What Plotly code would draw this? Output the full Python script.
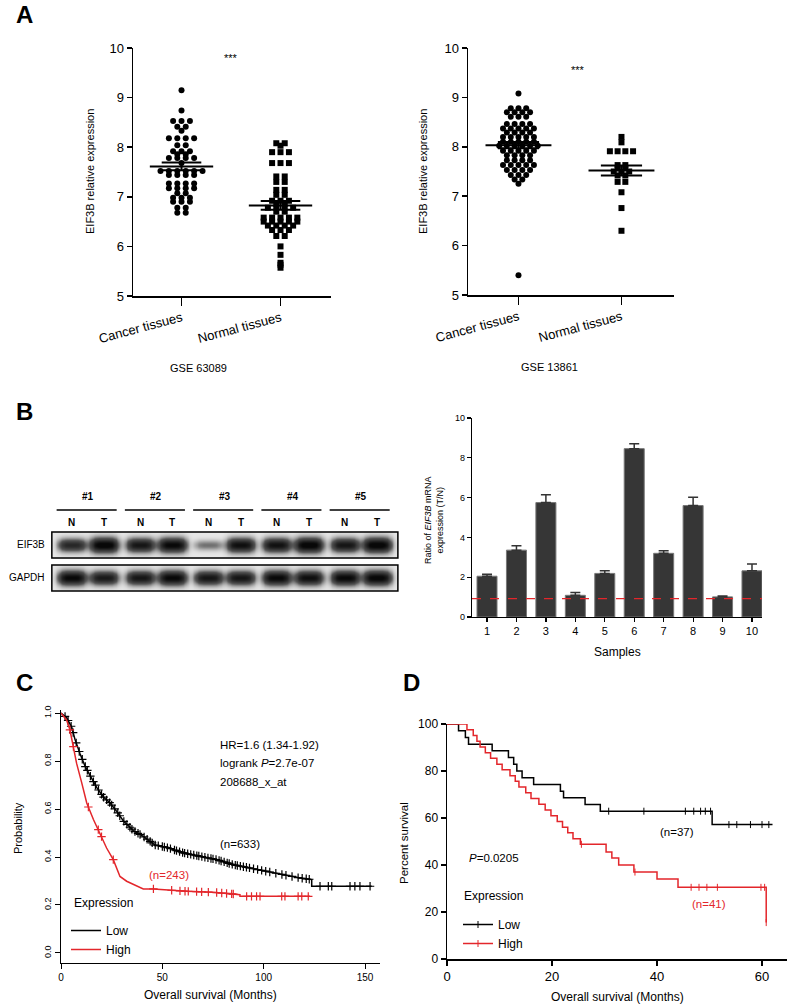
import numpy as np
import plotly.graph_objects as go

W, H = 791, 1008
FONT = "Liberation Sans, Arial, sans-serif"
RED = "#e3262b"

def px(p):
    return p / W

def py(p):
    return 1 - p / H

# ---------------- Panel A data ----------------
a_categories = ["Cancer tissues", "Normal tissues"]
a_datasets = ["GSE 63089", "GSE 13861"]

a1_cancer = [9.15, 8.74, 8.53, 8.53, 8.53, 8.41, 8.41, 8.33,
             8.18, 8.18, 8.18, 8.18, 8.04, 8.04, 7.92, 7.92, 7.92,
             7.86, 7.86, 7.78, 7.78, 7.78, 7.78, 7.68,
             7.52, 7.52, 7.52, 7.52, 7.52, 7.52, 7.44, 7.44, 7.44, 7.44,
             7.27, 7.27, 7.27, 7.27, 7.17, 7.17, 7.17, 7.17, 7.07, 7.07,
             6.98, 6.98, 6.98, 6.90, 6.90, 6.90, 6.78, 6.78, 6.68, 6.68]
a1_normal = [8.08, 8.08, 8.03, 7.90, 7.90, 7.90, 7.68, 7.68, 7.68,
             7.41, 7.41, 7.30, 7.30, 7.14, 7.14, 7.04, 7.04,
             6.92, 6.92, 6.92, 6.86, 6.86, 6.78, 6.78, 6.78, 6.78, 6.70, 6.70,
             6.58, 6.58, 6.58, 6.58, 6.58, 6.50, 6.50, 6.50, 6.50, 6.50,
             6.42, 6.42, 6.42, 6.42, 6.33, 6.33, 6.33, 6.21, 6.21,
             6.00, 5.83, 5.67, 5.63, 5.57]
a2_cancer = [9.08, 8.78, 8.78, 8.78, 8.70, 8.70, 8.70, 8.70, 8.61, 8.61, 8.61,
             8.46, 8.46, 8.46, 8.46, 8.37, 8.37, 8.37, 8.37, 8.37,
             8.29, 8.29, 8.29, 8.29, 8.20, 8.20, 8.20, 8.20, 8.20,
             8.10, 8.10, 8.10, 8.10, 8.10, 8.02, 8.02, 8.02, 8.02, 8.02, 8.02,
             7.92, 7.92, 7.92, 7.92, 7.92, 7.83, 7.83, 7.83, 7.83,
             7.73, 7.73, 7.73, 7.73, 7.63, 7.63, 7.63, 7.63, 7.63,
             7.53, 7.53, 7.53, 7.53, 7.43, 7.43, 7.43, 7.34, 7.34, 7.25, 5.40]
a2_normal = [8.20, 8.09, 7.91, 7.91, 7.91, 7.91, 7.63, 7.63, 7.57, 7.57,
             7.50, 7.50, 7.50, 7.42, 7.42, 7.29, 7.29, 7.08, 6.76, 6.30]

# ---------------- Panel B data ----------------
blot_groups = ["#1", "#2", "#3", "#4", "#5"]
blot_lanes = ["N", "T"]
blot_rows = ["EIF3B", "GAPDH"]
eif3b_bands = [0.72, 1.0, 0.85, 0.95, 0.32, 0.9, 0.88, 1.0, 0.85, 1.0]
gapdh_bands = [0.95, 0.82, 0.85, 0.95, 0.85, 0.85, 0.95, 0.9, 0.95, 0.97]

samples = [1, 2, 3, 4, 5, 6, 7, 8, 9, 10]
ratio = [2.05, 3.36, 5.75, 1.09, 2.19, 8.46, 3.20, 5.60, 1.01, 2.32]
ratio_err = [0.10, 0.22, 0.39, 0.14, 0.13, 0.25, 0.13, 0.42, 0.04, 0.34]
ratio_ref = 0.92

# ---------------- Panel C data ----------------
c_low_t = [0, 2.8, 5.3, 6.9, 9.4, 11.8, 14.3, 17.6, 20.9, 24.2, 27.5, 30.8, 35.7,
           40.6, 46.4, 52.1, 60.4, 68.6, 76.8, 85.0, 93.3, 101.5, 109.7, 118.0,
           123.7, 123.7, 153.3]
c_low_s = [1.0, 0.98, 0.94, 0.89, 0.83, 0.78, 0.74, 0.69, 0.65, 0.625, 0.59, 0.55,
           0.51, 0.486, 0.45, 0.44, 0.417, 0.403, 0.389, 0.368, 0.354, 0.34, 0.326,
           0.3125, 0.306, 0.278, 0.278]
c_high_t = [0, 2.8, 4.4, 6.1, 7.7, 10.2, 12.7, 16.0, 19.2, 22.5, 25.8, 29.1, 32.4,
            35.7, 40.6, 45.6, 62.0, 75.2, 88.3, 88.3, 122.9]
c_high_s = [1.0, 0.97, 0.93, 0.86, 0.79, 0.71, 0.625, 0.556, 0.5, 0.4375, 0.389,
            0.319, 0.299, 0.285, 0.267, 0.267, 0.257, 0.253, 0.243, 0.236, 0.236]
c_low_cens = [2, 3.5, 5, 6, 7.5, 9, 10.5, 12, 13, 14.5, 16, 17, 18.5, 20, 21, 22.5,
              24, 25, 26.5, 28, 29, 31, 32.5, 34, 35, 36.5, 38, 39, 41, 42.5, 44,
              45, 46.5, 48, 50, 51, 52.5, 54, 56, 57, 58.5, 60, 61, 62.5, 64, 65.5,
              67, 68, 69.5, 71, 72.5, 74, 75, 76.5, 78, 79, 80.5, 82, 83, 84.5, 86,
              87, 88.5, 90, 91.5, 93, 95, 97, 99, 101, 103, 106, 109, 111, 114, 117,
              119, 121, 122.5, 127.8, 131.9, 133.6, 142.6, 145, 147.5, 152.5]
c_high_cens = [4.4, 6.1, 13.5, 18.4, 20, 25.8, 45.6, 54.6, 58.7, 61.2, 62.8, 66.9,
               69.4, 72.7, 76.8, 79.3, 81.7, 84.2, 85.0, 91.6, 94, 96.5, 98.2,
               108.9, 110.5, 117, 118.8, 122]

# ---------------- Panel D data ----------------
d_low_t = [0, 2.2, 3.5, 4.1, 8.6, 11.7, 12.7, 13.3, 14.3, 16.5, 21.6, 22.2, 26.3,
           29.2, 50.5, 62.0]
d_low_s = [100, 97.1, 94.3, 91.4, 88.6, 85.7, 82.9, 80.0, 77.1, 74.3, 71.4, 68.6,
           65.7, 62.9, 57.2, 57.2]
d_high_t = [0, 3.8, 5.0, 5.7, 6.3, 7.3, 8.3, 9.5, 10.5, 12.0, 13.0, 13.7, 15.0,
            16.0, 17.5, 18.7, 19.8, 21.0, 22.0, 23.0, 24.0, 25.4, 30.3, 31.4, 32.7,
            35.6, 40.0, 44.0, 60.8]
d_high_s = [100, 97.6, 95.1, 92.7, 90.2, 87.8, 85.4, 82.9, 80.5, 78.0, 75.6, 73.2,
            70.7, 68.3, 65.9, 63.4, 61.0, 58.5, 56.1, 53.7, 51.2, 48.8, 45.5, 43.0,
            40.0, 37.0, 34.0, 30.5, 15.5]
d_low_cens = [30.8, 37.5, 45.4, 47.0, 48.3, 49.2, 50.2, 53.7, 55.2, 57.8, 60.0, 61.3]
d_high_cens = [25.6, 35.8, 46.5, 48.0, 49.5, 51.5, 59.8, 60.5, 60.8]

# ---------------- helpers ----------------
def beeswarm(vals, center, spacing):
    vals = np.asarray(vals, float)
    xs = np.zeros_like(vals)
    for v in np.unique(vals):
        idx = np.where(vals == v)[0]
        n = len(idx)
        xs[idx] = center + (np.arange(n) - (n - 1) / 2) * spacing
    return xs

def step_at(t, times, surv):
    i = np.searchsorted(np.asarray(times), t, side="right") - 1
    return np.asarray(surv)[i]

fig = go.Figure()

# ---------------- Panel A traces ----------------
a_sets = [(a1_cancer, a1_normal, "x", "y", 0.085), (a2_cancer, a2_normal, "x2", "y2", 0.075)]
for cancer, normal, xa, ya, sp in a_sets:
    for gi, (vals, sym, sz) in enumerate([(cancer, "circle", 6), (normal, "square", 6)]):
        fig.add_trace(go.Scatter(x=beeswarm(vals, gi, sp), y=vals, mode="markers",
                                 marker=dict(symbol=sym, size=sz, color="black"),
                                 xaxis=xa, yaxis=ya, showlegend=False))
        m = float(np.mean(vals))
        s = float(np.std(vals, ddof=1) / np.sqrt(len(vals)))
        lx = [gi - 0.32, gi + 0.32, None, gi - 0.2, gi + 0.2, None, gi - 0.2, gi + 0.2, None, gi, gi]
        ly = [m, m, None, m + s, m + s, None, m - s, m - s, None, m - s, m + s]
        fig.add_trace(go.Scatter(x=lx, y=ly, mode="lines", line=dict(color="black", width=2),
                                 xaxis=xa, yaxis=ya, showlegend=False))

# ---------------- Panel B: western blot ----------------
lane_pos = []
for g in range(len(blot_groups)):
    lane_pos += [g - 0.235, g + 0.235]
gx = np.linspace(-0.53, 4.54, 420)
gy = np.linspace(-0.394, 1.394, 120)
GX, GY = np.meshgrid(gx, gy)
inside = (np.abs(GY - 0) <= 0.394) | (np.abs(GY - 1) <= 0.394)
Z = np.where(inside, 0.06, 0.0)
for yc, bands in [(1, eif3b_bands), (0, gapdh_bands)]:
    for c, inten in zip(lane_pos, bands):
        wy = 0.11 + 0.11 * inten
        Z = Z + inten * np.exp(-((GX - c) / 0.21) ** 4) * np.exp(-((GY - yc) / wy) ** 2)
Z = np.where(inside, np.clip(Z, 0, 1), np.nan)
fig.add_trace(go.Heatmap(x=gx, y=gy, z=Z, zmin=0, zmax=1, zsmooth="best",
                         colorscale=[[0, "white"], [0.45, "#555555"], [1, "#080808"]],
                         showscale=False, xaxis="x6", yaxis="y6", hoverinfo="skip"))

# ---------------- Panel B: bar chart ----------------
fig.add_trace(go.Bar(x=samples, y=ratio, width=0.68,
                     marker=dict(color="#363636", line=dict(color="#777777", width=1)),
                     error_y=dict(type="data", array=ratio_err, arrayminus=[0] * len(ratio),
                                  symmetric=False, color="#333333", thickness=1.5, width=5),
                     xaxis="x3", yaxis="y3", showlegend=False))
fig.add_trace(go.Scatter(x=[0.49, 10.34], y=[ratio_ref, ratio_ref], mode="lines",
                         line=dict(color=RED, width=1.2, dash="dash"),
                         xaxis="x3", yaxis="y3", showlegend=False))

# ---------------- Panel C ----------------
for t, s, cens, col, name in [(c_low_t, c_low_s, c_low_cens, "black", "Low"),
                              (c_high_t, c_high_s, c_high_cens, RED, "High")]:
    fig.add_trace(go.Scatter(x=t, y=s, mode="lines", line=dict(color=col, width=1.5),
                             xaxis="x4", yaxis="y4", name=name, legend="legend"))
    fig.add_trace(go.Scatter(x=cens, y=np.interp(cens, t, s), mode="markers",
                             marker=dict(symbol="cross-thin", size=6, line=dict(color=col, width=1.2)),
                             xaxis="x4", yaxis="y4", showlegend=False))

# ---------------- Panel D ----------------
for t, s, cens, col, name in [(d_low_t, d_low_s, d_low_cens, "black", "Low"),
                              (d_high_t, d_high_s, d_high_cens, RED, "High")]:
    fig.add_trace(go.Scatter(x=t, y=s, mode="lines", line=dict(color=col, width=1.5, shape="hv"),
                             xaxis="x5", yaxis="y5", showlegend=False))
    fig.add_trace(go.Scatter(x=cens, y=[step_at(c, t, s) for c in cens], mode="markers",
                             marker=dict(symbol="line-ns", size=5, line=dict(color=col, width=1)),
                             xaxis="x5", yaxis="y5", showlegend=False))
    fig.add_trace(go.Scatter(x=[None], y=[None], mode="lines+markers", name=name,
                             line=dict(color=col, width=1.5),
                             marker=dict(symbol="line-ns", size=5, line=dict(color=col, width=1)),
                             xaxis="x5", yaxis="y5", legend="legend2"))

# ---------------- axes ----------------
def ax(**kw):
    base = dict(showline=True, linecolor="black", linewidth=1.5, ticks="outside",
                tickcolor="black", tickwidth=1.5, showgrid=False, zeroline=False,
                automargin=False,
                tickfont=dict(family=FONT, size=12, color="black"), fixedrange=True)
    base.update(kw)
    return base

layout_axes = dict(
    xaxis=ax(domain=[px(133), px(331)], range=[-0.49, 1.51], tickvals=[0, 1],
             ticktext=a_categories, tickangle=-15, ticklen=8, anchor="y",
             tickfont=dict(family=FONT, size=13, color="black")),
    yaxis=ax(domain=[py(296), py(48)], range=[5, 10], dtick=1, ticklen=5, anchor="x",
             tickfont=dict(family=FONT, size=13, color="black")),
    xaxis2=ax(domain=[px(468), px(674)], range=[-0.49, 1.51], tickvals=[0, 1],
              ticktext=a_categories, tickangle=-15, ticklen=8, anchor="y2",
              tickfont=dict(family=FONT, size=13, color="black")),
    yaxis2=ax(domain=[py(295), py(48)], range=[5, 10], dtick=1, ticklen=5, anchor="x2",
              tickfont=dict(family=FONT, size=13, color="black")),
    xaxis3=ax(domain=[px(472), px(762)], range=[0.49, 10.34], tickvals=samples, ticklen=4,
              anchor="y3", linewidth=1.2, tickwidth=1.2,
              tickfont=dict(family=FONT, size=11, color="black")),
    yaxis3=ax(domain=[py(617), py(418)], range=[0, 10], dtick=2, ticklen=4, anchor="x3",
              linewidth=1.2, tickwidth=1.2, tickfont=dict(family=FONT, size=9, color="black")),
    xaxis4=ax(domain=[px(61), px(380)], range=[0, 157.4], tickvals=[0, 50, 100, 150],
              ticklen=5, anchor="y4", linewidth=1.2, tickwidth=1,
              tickfont=dict(family=FONT, size=10, color="black")),
    yaxis4=ax(domain=[py(963), py(710)], range=[-0.0417, 1.0125],
              tickvals=[0, 0.2, 0.4, 0.6, 0.8, 1.0],
              ticktext=["0.0", "0.2", "0.4", "0.6", "0.8", "1.0"], tickangle=-90,
              ticklen=5, anchor="x4", linewidth=1.2, tickwidth=1,
              tickfont=dict(family=FONT, size=9, color="black")),
    xaxis5=ax(domain=[px(447), px(787)], range=[0, 64.76], dtick=20, ticklen=5, anchor="y5",
              tickfont=dict(family=FONT, size=13, color="black")),
    yaxis5=ax(domain=[py(959), py(724)], range=[0, 100], dtick=20, ticklen=5, anchor="x5",
              tickfont=dict(family=FONT, size=12, color="black")),
    xaxis6=dict(domain=[px(50), px(400)], range=[-0.557, 4.571], visible=False, fixedrange=True,
                anchor="y6", automargin=False),
    yaxis6=dict(domain=[py(593), py(488)], range=[-0.455, 2.727], visible=False, fixedrange=True,
                anchor="x6", automargin=False),
)

# ---------------- annotations ----------------
ann = []
def text(x, y, t, size=12, xref="paper", yref="paper", xanchor="center", yanchor="middle",
         color="black", angle=0, bold=False):
    if bold:
        t = "<b>" + t + "</b>"
    ann.append(dict(x=x, y=y, xref=xref, yref=yref, text=t, showarrow=False,
                    xanchor=xanchor, yanchor=yanchor, textangle=angle,
                    font=dict(family=FONT, size=size, color=color)))

for lab, (lx, ly) in zip("ABCD", [(24, 15), (24, 411), (24, 682), (411, 682)]):
    text(px(lx), py(ly), lab, size=24, bold=True)

# Panel A
text(px(90), py(172), "EIF3B relative expression", size=11, angle=-90)
text(px(423), py(172), "EIF3B relative expression", size=11, angle=-90)
text(0.5, 9.8, "***", size=11, xref="x", yref="y")
text(0.58, 9.55, "***", size=11, xref="x2", yref="y2")
text(px(199), py(368), a_datasets[0], size=11)
text(px(549), py(367), a_datasets[1], size=11)

# Panel B blot labels
for g, name in enumerate(blot_groups):
    text(g, 2.455, name, size=10, xref="x6", yref="y6", bold=True)
    for k, ln in enumerate(blot_lanes):
        text(lane_pos[2 * g + k], 1.667, ln, size=10, xref="x6", yref="y6", bold=True)
text(px(47), 1, blot_rows[0], size=10, xanchor="right", yref="y6")
text(px(47), 0, blot_rows[1], size=10, xanchor="right", yref="y6")

# Panel B bar labels
text(px(434), py(520), "Ratio of <i>EIF3B</i> mRNA<br>expression (T/N)", size=9, angle=-90)
text(px(617), py(652), "Samples", size=12)

# Panel C
text(px(218), py(745), "HR=1.6 (1.34-1.92)", size=11.5, xanchor="left")
text(px(218), py(763), "logrank <i>P</i>=2.7e-07", size=11.5, xanchor="left")
text(px(218), py(782), "208688_x_at", size=11.5, xanchor="left")
text(px(218), py(844), "(n=633)", size=11.5, xanchor="left")
text(px(147), py(875), "(n=243)", size=11.5, xanchor="left", color=RED)
text(px(18), py(828), "Probability", size=11, angle=-90)
text(px(210), py(995), "Overall survival (Months)", size=12)
text(px(72), py(903), "Expression", size=12, xanchor="left")

# Panel D
text(px(467), py(858), "<i>P</i>=0.0205", size=11.5, xanchor="left")
text(px(658), py(832), "(n=37)", size=11.5, xanchor="left")
text(px(690), py(904), "(n=41)", size=11.5, xanchor="left", color=RED)
text(px(404), py(843), "Percent survival", size=11.5, angle=-90)
text(px(617), py(997), "Overall survival (Months)", size=12)
text(px(462), py(896), "Expression", size=12, xanchor="left")

# ---------------- shapes (blot frames and group lines) ----------------
shapes = []
for y0, y1 in [(0.606, 1.394), (-0.394, 0.394)]:
    shapes.append(dict(type="rect", xref="x6", yref="y6", x0=-0.53, x1=4.54, y0=y0, y1=y1,
                       line=dict(color="black", width=1.5)))
for g in range(len(blot_groups)):
    shapes.append(dict(type="line", xref="x6", yref="y6", x0=g - 0.46, x1=g + 0.42,
                       y0=2.06, y1=2.06, line=dict(color="black", width=1.5)))

fig.update_layout(
    template="none",
    width=W, height=H, margin=dict(l=0, r=0, t=0, b=0, pad=0), autosize=False,
    paper_bgcolor="white", plot_bgcolor="white",
    font=dict(family=FONT, color="black"),
    annotations=ann, shapes=shapes, bargap=0.3,
    legend=dict(x=px(66), y=py(916), xanchor="left", yanchor="top",
                font=dict(family=FONT, size=12), itemwidth=30, bgcolor="rgba(0,0,0,0)",
                tracegroupgap=0),
    legend2=dict(x=px(458), y=py(910), xanchor="left", yanchor="top",
                 font=dict(family=FONT, size=12), itemwidth=30, bgcolor="rgba(0,0,0,0)",
                 tracegroupgap=0),
    **layout_axes,
)

fig.write_html("out.html", config={"displayModeBar": False, "staticPlot": True},
               post_script="document.body.style.margin='0px';")
